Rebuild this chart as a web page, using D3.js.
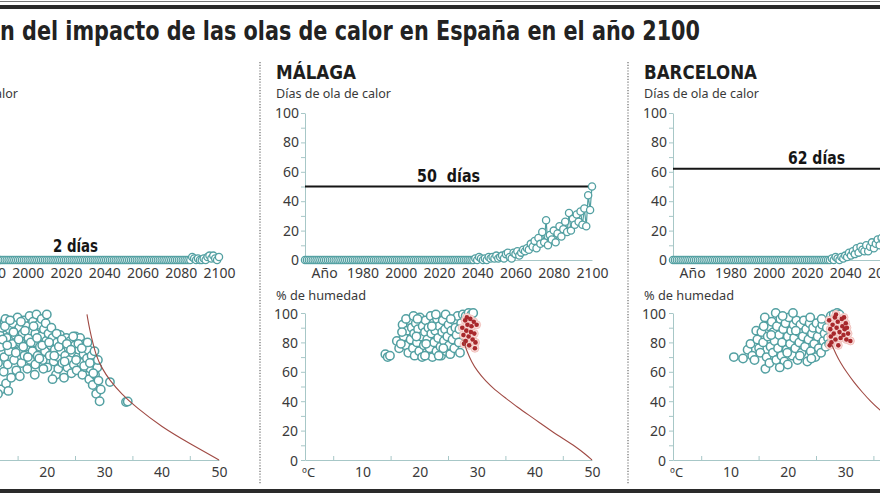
<!DOCTYPE html>
<html><head><meta charset="utf-8">
<script src="https://cdn.jsdelivr.net/npm/d3@7"></script>
<style>
html,body{margin:0;padding:0;background:#fff;}
svg{display:block;}
</style></head>
<body>
<svg id="chart" width="880" height="495"></svg>
<script>
// ---------------- DATA ----------------
const titleText = "n del impacto de las olas de calor en España en el año 2100";
const cityNames = ["", "MÁLAGA", "BARCELONA"];
const daysLabel = "Días de ola de calor";
const humLabel = "% de humedad";
const refDays = [2, 50, 62];
const refLabels = ["2 días", "50\u00a0\u00a0días", "62 días"];
const yearStart = 1950, yearEnd = 2100;
const yearTickValues = [1960, 1980, 2000, 2020, 2040, 2060, 2080, 2100];
const yearTickLabels = ["Año", "1980", "2000", "2020", "2040", "2060", "2080", "2100"];
const dayTicks = [0, 20, 40, 60, 80, 100];
const tempTicks = [10, 20, 30, 40, 50];
const humTicks = [0, 20, 40, 60, 80, 100];

// heat-wave days per year, 1950..2100
const daysLeft = [
0,0,0,0,0,0,0,0,0,0, 0,0,0,0,0,0,0,0,0,0, 0,0,0,0,0,0,0,0,0,0,
0,0,0,0,0,0,0,0,0,0, 0,0,0,0,0,0,0,0,0,0, 0,0,0,0,0,0,0,0,0,0,
0,0,0,0,0,0,0,0,0,0, 0,0,0,0,0,0,0,0,0,0, 0,0,0,0,0,0,0,0,0,0,
0,0,0,0,0,0,0,0,0,0, 0,0,0,0,0,0,0,0,0,0, 0,0,0,0,0,0,0,0,0,0,
0,0,0,0,0,0,0,0,0,0, 0,0,0,0,0,0,
2,1,0,1,0,0,1,0,2,3,1,3,1,0,2];
const daysMalaga = [
0,0,0,0,0,0,0,0,0,0, 0,0,0,0,0,0,0,0,0,0, 0,0,0,0,0,0,0,0,0,0,
0,0,0,0,0,0,0,0,0,0, 0,0,0,0,0,0,0,0,0,0, 0,0,0,0,0,0,0,0,0,0,
0,0,0,0,0,0,0,0,0,0, 0,0,0,0,0,0,0,0,0,0, 0,0,0,0,0,0,0,0,
0,1,0,2,1,0,1,0,2,1,
2,1,3,1,2,3,1,4,5,2,
1,5,4,6,3,5,7,6,8,7,
11,9,13,8,15,11,19,12,27,10,
17,14,20,12,18,23,16,21,26,19,
32,20,28,24,31,26,33,24,35,23,
44,34,50];
const daysBarcelona = [
0,0,0,0,0,0,0,0,0,0, 0,0,0,0,0,0,0,0,0,0, 0,0,0,0,0,0,0,0,0,0,
0,0,0,0,0,0,0,0,0,0, 0,0,0,0,0,0,0,0,0,0, 0,0,0,0,0,0,0,0,0,0,
0,0,0,0,0,0,0,0,0,0, 0,0,0,0,0,0,0,0,0,0, 0,0,0,
1,0,2,1,0,2,1,3,2,5,
3,6,4,8,5,9,7,6,10,6,
9,12,8,11,14,10,15,13,18,12,
17,21,16,19,24,20,27,22,25,30,
24,28,33,27,31,36,29,34,39,32,
37,42,35,40,45,38,43,48,41,47,
52,44,50,55,48,57,53,62];

// temperature (ºC) / humidity (%) scatter
const leftTeal = [[8,90],[8.5,68],[9,85],[9,58],[9.5,75],[10,50],[10,62],[10.5,88],[10.8,80],[11,72],[11,55],[11.2,94],[11.5,66],[11.8,85],[12,77],[12,48],[12.2,90],[12.5,60],[12.6,70],[12.8,96],[12.9,52],[13,83],[13.2,65],[13.4,74],[13.5,89],[13.8,56],[14,79],[14.1,93],[14.3,68],[14.5,85],[14.7,61],[14.9,97],[15,74],[15.2,90],[15.4,80],[15.6,66],[15.8,86],[16,95],[16.1,71],[16.3,77],[16.5,91],[16.6,62],[16.8,83],[17,98],[17.1,68],[17.3,88],[17.5,74],[17.6,94],[17.8,80],[18,65],[18,86],[18.2,99],[18.4,71],[18.6,92],[18.8,77],[19,84],[19.1,96],[19.3,68],[19.5,89],[19.7,74],[19.9,81],[20,99],[20.1,63],[20.3,86],[20.5,71],[20.7,78],[21,83],[21.2,67],[21.4,75],[21.6,58],[21.8,80],[22,70],[22,62],[22.3,85],[22.5,74],[22.7,66],[22.9,79],[23,56],[23.2,71],[23.4,83],[23.6,63],[23.8,76],[24,68],[24.1,81],[24.3,59],[24.5,73],[24.7,65],[24.9,78],[25,84],[25.2,61],[25.4,70],[25.6,75],[25.8,83],[26,66],[26.2,58],[26.4,72],[26.6,79],[26.8,63],[27,69],[27.2,75],[27.4,55],[27.6,62],[27.8,71],[28,51],[28.2,66],[28.4,58],[28.6,45],[28.8,63],[29,54],[29.2,40],[29.4,48],[31,53],[33.8,39.5],[34.1,39.8],
[12.3,82],[12.7,91],[13.1,78],[13.6,95],[14.2,87],[14.6,73],[15.1,82],[15.5,94],[15.9,77],[16.2,88],[16.7,70],[17.2,80],[17.7,91],[18.3,83],[18.7,69],[19.2,78],[19.8,93],[20.4,80],[20.8,90],[21.3,71],[21.7,86],[22.1,77],[22.6,82],[23.1,67],[23.5,79],[24.2,75],[24.6,84],[25.1,68],[25.5,79],[26.1,76],[26.5,64],[27.1,80],[27.5,66],[28.1,59],[28.3,74],[28.9,68],[19.4,62],[21,55],[17.9,58],[15.3,57],[11.5,45],[13.3,47]];
const malagaTeal = [[14,72],[14.4,70],[14.8,71],[16,81],[16.4,76],[17,92],[17.2,84],[17.5,78],[17.8,88],[18,73],[18.2,95],[18.4,82],[18.6,90],[18.8,76],[19,86],[19.1,71],[19.3,93],[19.5,80],[19.7,89],[19.9,74],[20,97],[20.2,84],[20.4,70],[20.5,91],[20.7,78],[20.9,87],[21,95],[21.2,73],[21.3,82],[21.5,90],[21.7,76],[21.9,98],[22,86],[22.2,70],[22.4,93],[22.5,80],[22.7,88],[22.9,74],[23,96],[23.2,83],[23.4,91],[23.6,77],[23.7,71],[23.9,87],[24,95],[24.2,81],[24.4,89],[24.6,74],[24.8,84],[25,92],[25.1,78],[25.3,72],[25.5,88],[25.7,82],[25.9,95],[26,76],[26.2,90],[26.4,85],[26.6,98],[26.8,80],[27,73],[27.2,93],[27.5,99],[28,98],[28.5,100],[29,99],[29.3,100],[17.6,96],[18.9,98],[16.9,87],[16.7,79],[19.6,96],[21.1,79],[22.8,99],[24.5,99],[24.1,76],[20.9,71],[23.3,71],[22.1,91],[19.4,84],[25.4,96],[26.9,89]];
const malagaRed = [[27.4,90],[27.6,85],[27.9,95],[28,81],[28.1,88],[28.3,92],[28.5,84],[28.6,78],[28.8,96],[28.9,87],[29,91],[29.2,82],[29.4,94],[29.5,86],[29.7,80],[29.6,76],[29.9,92],[28.2,97],[27.7,79]];
const barcelonaTeal = [[10.6,70],[12.2,69],[13,75],[13.5,79],[13.8,71],[14.2,68],[14.5,88],[14.7,82],[15,76],[15.2,73],[15.4,87],[15.7,80],[16,97],[16.1,62],[16.3,70],[16.5,84],[16.7,91],[16.8,66],[17,77],[17.2,94],[17.4,73],[17.5,87],[17.7,81],[17.9,100],[18,68],[18.1,91],[18.3,76],[18.5,85],[18.7,96],[18.9,71],[19,80],[19.2,89],[19.4,67],[19.6,93],[19.8,75],[20,84],[20,65],[20.2,97],[20.4,79],[20.6,88],[20.8,71],[21,92],[21.1,83],[21.3,76],[21.5,95],[21.7,68],[21.9,87],[22,80],[22.2,92],[22.4,73],[22.6,84],[22.8,95],[23,77],[23.2,89],[23.4,67],[23.6,82],[23.8,93],[24,74],[24.2,86],[24.4,90],[24.6,79],[24.8,70],[25,93],[25.2,84],[25.4,76],[25.6,89],[25.8,73],[26,92],[26.2,81],[26.4,86],[26.6,77],[26.8,90],[27,83],[27.2,79],[27.5,98],[28,99],[28.6,100],[29,99],[15.8,91],[19.1,98],[23.9,97],[22.1,71],[18.6,63],[20.9,100],[25.9,96],[21.4,88],[17.1,85],[19.9,73],[24.1,69]];
const barcelonaRed = [[27.2,95],[27.4,89],[27.5,84],[27.6,80],[27.8,92],[28,86],[28.2,97],[28.3,82],[28.5,90],[28.7,94],[28.8,78],[29,87],[29.2,83],[29.4,96],[29.5,91],[29.7,85],[29.9,89],[30.1,93],[30.2,82],[30.5,86],[30.9,81],[27.3,78],[28.4,99],[29.8,97],[30.3,90]];
const leftLimit = [[27,99],[27.5,88],[28,80],[28.6,71],[29.5,63],[31,54],[33,45],[35.5,36],[40,22.5],[45,11],[50,0]];
const malagaLimit = [[27.5,82],[28.2,74],[29,67],[30,60.5],[31.5,53.5],[33,48],[35,42],[37,36],[39,30.5],[41,25],[43,19.5],[45,14.5],[47,9.5],[49,3.5],[50,0]];
const barcelonaLimit = [[27.7,78],[28.4,72],[29.2,66],[30.2,60],[31.5,53],[33,46],[34.5,39.5],[36,34],[38,28],[40,22.5],[43,15],[46,8],[50,0]];

// ---------------- DRAWING ----------------
const svg = d3.select("#chart");
const TEAL = "#53a0a2", AXIS = "#a7c7c7", TXT = "#3a3a3a";
const SANS = "'Noto Sans', 'Open Sans', sans-serif";
const COND = "'Liberation Sans Narrow', 'DejaVu Sans Condensed', 'Roboto', sans-serif";

// top rules
svg.append("rect").attr("x",0).attr("y",1).attr("width",880).attr("height",1).attr("fill","#777");
svg.append("rect").attr("x",0).attr("y",5).attr("width",880).attr("height",4).attr("fill","#2a2a2a");
// bottom rule
svg.append("rect").attr("x",0).attr("y",489).attr("width",880).attr("height",4).attr("fill","#2a2a2a");

svg.append("text").attr("x",0).attr("y",40)
  .attr("font-family",COND).attr("font-weight","bold").attr("font-size",27)
  .attr("fill","#222").attr("textLength",700).attr("lengthAdjust","spacingAndGlyphs")
  .text(titleText);

// dotted separators
[260, 628].forEach(xx => {
  svg.append("line").attr("x1",xx).attr("x2",xx).attr("y1",62).attr("y2",484)
    .attr("stroke","#8a8a8a").attr("stroke-width",1.5).attr("stroke-dasharray","1.2,1.6");
});

function panel(off, name, days, refDay, refLabel, teal, red, limit) {
  const g = svg.append("g").attr("transform", `translate(${off},0)`);
  const x = d3.scaleLinear().domain([yearStart, yearEnd]).range([305, 592]);
  const y = d3.scaleLinear().domain([0, 100]).range([260, 113]);
  const yrs = d3.range(yearStart, yearEnd + 1);
  const pts = days.map((v, i) => [yrs[i], v]);

  // headers
  if (name) {
    g.append("text").attr("x",276).attr("y",79).attr("font-family",COND).attr("font-weight","bold")
      .attr("font-size",19).attr("fill","#1e1e1e")
      .attr("textLength", name.length > 6 ? 113 : 80).attr("lengthAdjust","spacingAndGlyphs").text(name);
  }
  g.append("text").attr("x",276).attr("y",98).attr("font-family",SANS).attr("font-size",13)
    .attr("fill",TXT).attr("textLength",115).attr("lengthAdjust","spacingAndGlyphs").text(daysLabel);

  // top y axis
  const ya = g.append("g").attr("transform","translate(305,0)")
    .call(d3.axisLeft(y).tickValues(d3.range(0,101,10)).tickSize(4).tickSizeOuter(0)
      .tickFormat(d => dayTicks.includes(d) ? d : ""));
  ya.select(".domain").attr("stroke",AXIS);
  ya.selectAll(".tick line").attr("stroke",AXIS);
  ya.selectAll("text").attr("font-family",SANS).attr("font-size",14).attr("fill",TXT).attr("x",-6);

  // top x axis
  const xa = g.append("g").attr("transform","translate(0,260)")
    .call(d3.axisBottom(x).tickValues(yearTickValues).tickSize(0).tickPadding(8)
      .tickFormat((d,i) => yearTickLabels[i]));
  xa.select(".domain").attr("stroke",AXIS);
  xa.selectAll("text").attr("font-family",SANS).attr("font-size",14).attr("fill",TXT);

  // reference line
  g.append("line").attr("x1",x(yearStart)).attr("x2",x(yearEnd)).attr("y1",y(refDay)).attr("y2",y(refDay))
    .attr("stroke","#151515").attr("stroke-width",2);
  const lw = refLabel.length > 7 ? 63 : (refLabel.length > 6 ? 57 : 45);
  g.append("text").attr("x",(x(yearStart)+x(yearEnd))/2).attr("y",y(refDay)-5)
    .attr("text-anchor","middle").attr("font-family",COND).attr("font-weight","bold")
    .attr("font-size",18).attr("fill","#151515")
    .attr("textLength",lw).attr("lengthAdjust","spacingAndGlyphs").text(refLabel);

  // series line + points
  g.append("path").datum(pts).attr("fill","none").attr("stroke",TEAL).attr("stroke-width",1.2)
    .attr("d", d3.line().x(d => x(d[0])).y(d => y(d[1])));
  g.append("g").selectAll("circle").data(pts).join("circle")
    .attr("cx", d => x(d[0])).attr("cy", d => y(d[1])).attr("r",3.6)
    .attr("fill","#fff").attr("stroke",TEAL).attr("stroke-width",1.3);

  // ----- bottom scatter -----
  const tx = d3.scaleLinear().domain([0, 50]).range([305, 592]);
  const hy = d3.scaleLinear().domain([0, 100]).range([460, 313]);
  g.append("text").attr("x",276).attr("y",300).attr("font-family",SANS).attr("font-size",13)
    .attr("fill",TXT).attr("textLength",90).attr("lengthAdjust","spacingAndGlyphs").text(humLabel);

  const hya = g.append("g").attr("transform","translate(305,0)")
    .call(d3.axisLeft(hy).tickValues(d3.range(0,101,10)).tickSize(4).tickSizeOuter(0)
      .tickFormat(d => humTicks.includes(d) ? d : ""));
  hya.select(".domain").attr("stroke",AXIS);
  hya.selectAll(".tick line").attr("stroke",AXIS);
  hya.selectAll("text").attr("font-family",SANS).attr("font-size",14).attr("fill",TXT).attr("x",-7)
    .attr("dy","0.36em");

  const txa = g.append("g").attr("transform","translate(0,460)")
    .call(d3.axisBottom(tx).tickValues(tempTicks).tickSize(0).tickPadding(7).tickSizeOuter(0));
  txa.select(".domain").attr("stroke",AXIS);
  txa.selectAll("text").attr("font-family",SANS).attr("font-size",14).attr("fill",TXT);
  g.append("g").selectAll("line").data([5,15,25,35,45]).join("line")
    .attr("x1", d => tx(d)).attr("x2", d => tx(d)).attr("y1",460).attr("y2",456)
    .attr("stroke",AXIS);
  g.append("text").attr("x",302).attr("y",477).attr("font-family",SANS).attr("font-size",13)
    .attr("fill",TXT).text("ºC");

  g.append("g").selectAll("circle").data(teal).join("circle")
    .attr("cx", d => tx(d[0])).attr("cy", d => hy(d[1])).attr("r",4.2)
    .attr("fill","#fff").attr("stroke",TEAL).attr("stroke-width",1.5);
  if (red.length) {
    g.append("g").selectAll("circle").data(red).join("circle")
      .attr("cx", d => tx(d[0])).attr("cy", d => hy(d[1])).attr("r",4)
      .attr("fill","#f8dedb").attr("stroke","#efb9b4").attr("stroke-width",0.8);
    g.append("g").selectAll("circle").data(red).join("circle")
      .attr("cx", d => tx(d[0])).attr("cy", d => hy(d[1])).attr("r",2.3)
      .attr("fill","#a8282c");
  }
  g.append("path").datum(limit).attr("fill","none").attr("stroke","#a04a44").attr("stroke-width",1.1)
    .attr("d", d3.line().curve(d3.curveBasis).x(d => tx(d[0])).y(d => hy(d[1])));
}

panel(-373, cityNames[0], daysLeft, refDays[0], refLabels[0], leftTeal, [], leftLimit);
panel(0, cityNames[1], daysMalaga, refDays[1], refLabels[1], malagaTeal, malagaRed, malagaLimit);
panel(368, cityNames[2], daysBarcelona, refDays[2], refLabels[2], barcelonaTeal, barcelonaRed, barcelonaLimit);
</script>
</body></html>
